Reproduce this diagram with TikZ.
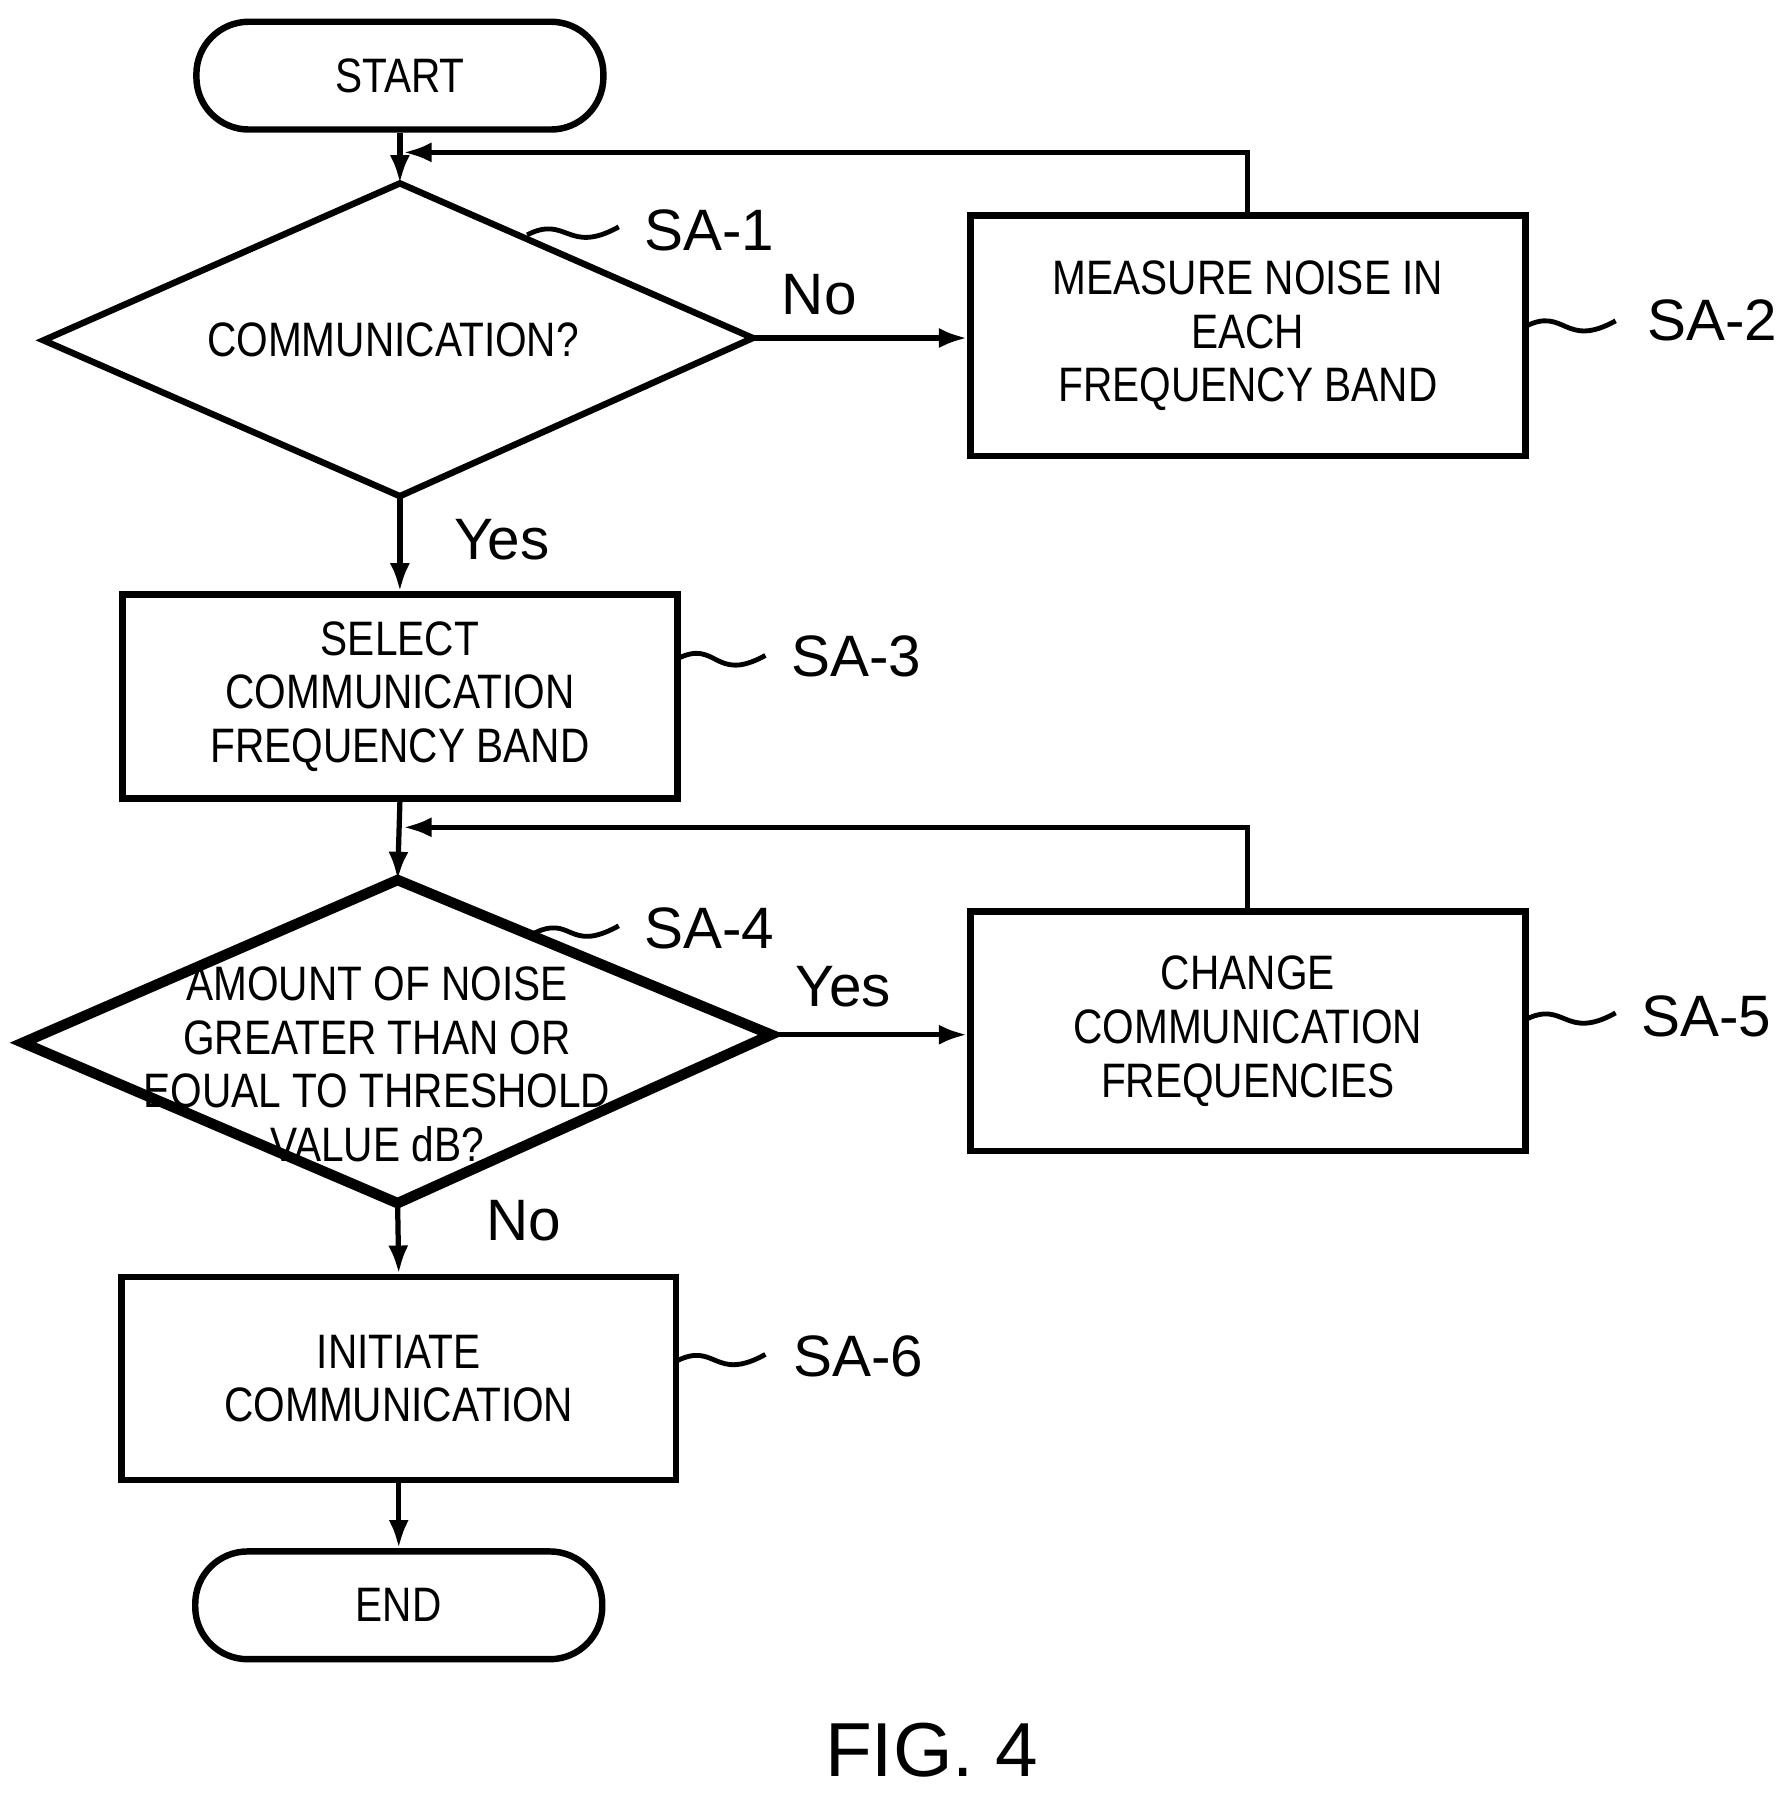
\documentclass[tikz,border=0pt]{standalone}
\usepackage{fontspec}
\setmainfont{Liberation Sans}
\newfontfamily\narrowf{Liberation Sans}[FakeStretch=0.84]
\usetikzlibrary{arrows.meta}
\begin{document}
\begin{tikzpicture}[x=0.01cm,y=-0.01cm,
  box/.style={draw,line width=1.6pt,align=center,font=\narrowf\fontsize{12}{13.3}\selectfont,inner sep=0pt},
  term/.style={box,rounded corners=13pt,minimum width=3.55cm,minimum height=0.94cm},
  proc/.style={box,minimum width=4.84cm},
  lab/.style={font=\fontsize{14.5}{15}\selectfont,anchor=west},
  yn/.style={font=\fontsize{14.5}{15}\selectfont},
  ar/.style={line width=1.3pt,-{Latex[length=7pt,width=5pt]}},
  sq/.style={line width=1.2pt}]
\useasboundingbox (0,0) rectangle (1560,1584);
\node[term] (start) at (349,66) {START};
\node[term] (end) at (348,1401) {END};
% diamond 1
\coordinate (d1t) at (349,160); \coordinate (d1l) at (38,297);
\coordinate (d1r) at (657,295); \coordinate (d1b) at (349,433);
\draw[line width=1.6pt] (d1t)--(d1r)--(d1b)--(d1l)--cycle;
\node[font=\narrowf\fontsize{12}{13}\selectfont] (d1) at (343,297) {COMMUNICATION?};
% diamond 2
\coordinate (d2t) at (347,768); \coordinate (d2l) at (20,910);
\coordinate (d2r) at (673,903); \coordinate (d2b) at (347,1050);
\draw[line width=2.6pt] (d2t)--(d2r)--(d2b)--(d2l)--cycle;
\node[align=center,font=\narrowf\fontsize{12}{13.3}\selectfont] (d2) at (329,929) {AMOUNT OF NOISE\\GREATER THAN OR\\EQUAL TO THRESHOLD\\VALUE dB?};
% boxes
\node[proc,minimum height=2.1cm] (b2) at (1089,293) {MEASURE NOISE IN\\EACH\\FREQUENCY BAND};
\node[proc,minimum height=1.78cm] (b3) at (349,608) {SELECT\\COMMUNICATION\\FREQUENCY BAND};
\node[proc,minimum height=2.09cm] (b5) at (1089,900) {CHANGE\\COMMUNICATION\\FREQUENCIES};
\node[proc,minimum height=1.77cm] (b6) at (348,1203) {INITIATE\\COMMUNICATION};
\coordinate (j1) at (1089,133); \coordinate (m1) at (352,133);
\coordinate (j2) at (1089,722); \coordinate (m2) at (352,722);
% connectors
\draw[ar] (start) -- (d1t);
\draw[ar] (d1r) -- (d1r -| b2.west);
\draw[ar] (b2.north) -- (j1) -- (m1);
\draw[ar] (d1b) -- (b3.north);
\draw[ar] (b3.south) -- (d2t);
\draw[ar] (d2r) -- (d2r -| b5.west);
\draw[ar] (b5.north) -- (j2) -- (m2);
\draw[ar] (d2b) -- (b6.north);
\draw[ar] (b6.south) -- (end);
% yes/no
\node[yn] at (715,257) {No};
\node[yn] at (438,471) {Yes};
\node[yn] at (736,861) {Yes};
\node[yn] at (457,1065) {No};
% squiggles + labels
\newcommand{\sqq}[4]{\draw[sq] (#1,#2) .. controls (#1+35,#2-18) and (#3-45,#4+25) .. (#3,#4);}
\sqq{460}{205}{540}{198}\node[lab] at (550,201) {SA-1};
\sqq{1331}{285}{1410}{280}\node[lab] at (1425,280) {SA-2};
\sqq{591}{575}{668}{572}\node[lab] at (678,573) {SA-3};
\sqq{465}{815}{540}{808}\node[lab] at (550,810) {SA-4};
\sqq{1331}{890}{1410}{884}\node[lab] at (1420,887) {SA-5};
\sqq{590}{1188}{668}{1182}\node[lab] at (680,1184) {SA-6};
\node[font=\fontsize{19}{20}\selectfont] at (813,1527) {FIG. 4};
\end{tikzpicture}
\end{document}
